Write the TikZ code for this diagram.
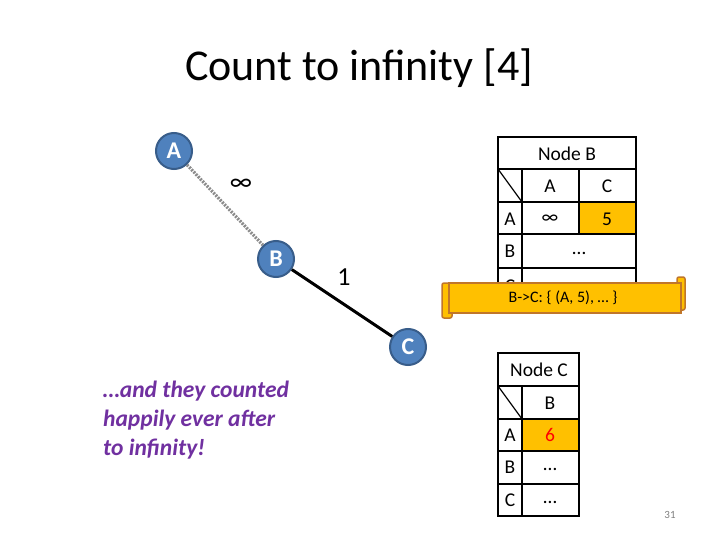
\documentclass[tikz,border=0pt]{standalone}
\usepackage{fontspec}
\setmainfont{Carlito}
\definecolor{routerblue}{HTML}{4F81BD}
\definecolor{routerline}{HTML}{385D8A}
\definecolor{msgfill}{HTML}{FFC000}
\definecolor{msgline}{HTML}{C0762A}
\definecolor{notepurple}{HTML}{7030A0}
\definecolor{linkgray}{HTML}{8C8C8C}
\begin{document}
\begin{tikzpicture}[x=1pt,y=-1pt,
    router/.style={circle, draw=routerline, line width=2pt, fill=routerblue,
        minimum size=36pt, inner sep=0pt, text=white, font=\fontsize{24}{24}\selectfont\bfseries},
    cell/.style={inner sep=0pt, font=\fontsize{19.5}{20}\selectfont},
    grid/.style={line width=1.2pt}]
    \useasboundingbox (0,0) rectangle (720,540);

    % 1. title
    \node[font=\fontsize{44}{48}\selectfont] (title) at (359,68) {Count to infinity [4]};

    % 2. routers and links
    \node[router] (A) at (174,151) {A};
    \node[router] (B) at (276,259) {B};
    \node[router] (C) at (408,347) {C};
    \draw[linkgray, line width=3.2pt, dash pattern=on 2pt off 1.2pt] (A) -- (B);
    \draw[line width=3pt] (B) -- (C);
    \node[font=\fontsize{26}{26}\selectfont] (costAB) at (241,185) {∞};
    \node[font=\fontsize{26}{26}\selectfont] (costBC) at (344,277) {1};

    % 3. table of node B (last row under the message)
    \fill[msgfill] (579,202) rectangle (636,234);
    \draw[grid] (498,137) rectangle (636,300);
    \foreach \y in {169,202,234,268} \draw[grid] (498,\y) -- (636,\y);
    \draw[grid] (522,169) -- (522,300);
    \draw[grid] (579,169) -- (579,234);
    \draw[grid] (498,169) -- (522,202);
    \node[cell] (bHead) at (567,154) {Node B};
    \node[cell] (bColA) at (550,186) {A};
    \node[cell] (bColC) at (607,186) {C};
    \node[cell] (bRowA) at (510,219) {A};
    \node[cell] (bAA) at (550,219) {∞};
    \node[cell] (bAC) at (607,219) {5};
    \node[cell] (bRowB) at (510,251) {B};
    \node[cell] (bB) at (579,253) {…};
    \node[cell] (bRowC) at (510,286) {C};

    % 4. message B->C (scroll)
    \filldraw[fill=msgfill, draw=msgline, line width=1.5pt, rounded corners=2pt] (442,283) rectangle (452,318);
    \filldraw[fill=msgfill, draw=msgline, line width=1.5pt, rounded corners=2pt] (677,277) rectangle (685,310);
    \filldraw[fill=msgfill, draw=msgline, line width=1.5pt] (449,283) rectangle (681,313);
    \node[font=\fontsize{16}{18}\selectfont] (msg) at (563,298) {B->C: \{ (A, 5), … \}};

    % 5. table of node C
    \fill[msgfill] (522,419) rectangle (579,451);
    \draw[grid] (498,353) rectangle (579,516);
    \foreach \y in {386,419,451,484} \draw[grid] (498,\y) -- (579,\y);
    \draw[grid] (522,386) -- (522,516);
    \draw[grid] (498,386) -- (522,419);
    \node[cell] (cHead) at (539,370) {Node C};
    \node[cell] (cColB) at (550,403) {B};
    \node[cell] (cRowA) at (510,435) {A};
    \node[cell, text=red] (cAB) at (550,435) {6};
    \node[cell] (cRowB) at (510,467) {B};
    \node[cell] (cB) at (550,469) {…};
    \node[cell] (cRowC) at (510,500) {C};
    \node[cell] (cC) at (550,502) {…};

    % 6. note and page number
    \node[anchor=north west, align=left, text=notepurple, inner sep=0pt,
        font=\fontsize{23.5}{29}\selectfont\bfseries\itshape] (note) at (103,381)
        {…and they counted\\happily ever after\\to infinity!};
    \node[text=gray, font=\fontsize{11}{12}\selectfont] (page) at (670,515) {31};
\end{tikzpicture}
\end{document}
